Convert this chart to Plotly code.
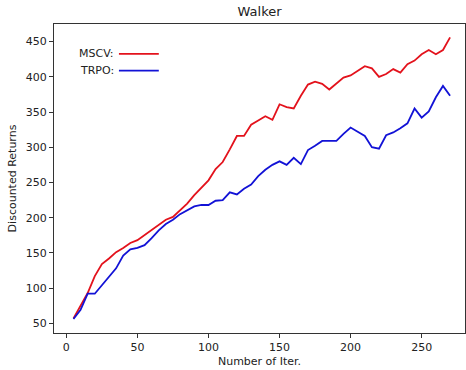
import plotly.graph_objects as go

iters = list(range(5, 275, 5))
mscv = [57, 75, 93, 117, 134, 142, 151, 157, 164, 168, 175, 182, 190, 197, 201, 210,
        220, 232, 242, 253, 269, 279, 297, 316, 316, 332, 338, 344, 339, 361, 357, 355,
        373, 389, 393, 390, 382, 391, 399, 402, 409, 415, 412, 400, 404, 411, 406, 418,
        423, 432, 438, 432, 438, 456]
trpo = [56, 69, 92, 92, 104, 116, 128, 146, 155, 157, 161, 171, 182, 191, 197, 205,
        211, 216, 218, 218, 224, 225, 236, 233, 241, 247, 259, 268, 275, 280, 275, 285,
        276, 296, 302, 309, 309, 309, 319, 328, 322, 316, 300, 298, 317, 321, 327, 334,
        355, 342, 351, 371, 387, 373]
x_ticks = [0, 50, 100, 150, 200, 250]
y_ticks = [50, 100, 150, 200, 250, 300, 350, 400, 450]
series_names = ["MSCV:", "TRPO:"]
colors = ["#e3121c", "#1212d6"]

fig = go.Figure()
for name, ys, c in zip(series_names, [mscv, trpo], colors):
    fig.add_trace(go.Scatter(x=iters, y=ys, mode="lines", name=name,
                             line=dict(color=c, width=1.8), showlegend=False))

font = "DejaVu Sans, sans-serif"
axis_common = dict(showline=True, mirror=True, linecolor="#333333", linewidth=1.2,
                   ticks="outside", ticklen=4, tickcolor="#333333", showgrid=False,
                   zeroline=False, tickfont=dict(family=font, size=11, color="#222222"))

fig.update_layout(
    width=466, height=370,
    margin=dict(l=54, r=1, t=24, b=37),
    paper_bgcolor="white", plot_bgcolor="white",
    title=dict(text="Walker", x=0.557, xanchor="center", y=0.970, yanchor="middle",
               font=dict(family=font, size=13, color="#222222")),
    xaxis=dict(range=[-8.7, 280.5], tickvals=x_ticks,
               title=dict(text="Number of Iter.", font=dict(family=font, size=11, color="#222222"), standoff=4),
               **axis_common),
    yaxis=dict(range=[36.2, 475], tickvals=y_ticks,
               title=dict(text="Discounted Returns", font=dict(family=font, size=11, color="#222222"), standoff=6),
               **axis_common),
)

# Legend (text first, then line sample), matplotlib style
legend_rows = [(0.903, series_names[0], colors[0]), (0.849, series_names[1], colors[1])]
for yp, name, c in legend_rows:
    fig.add_annotation(xref="paper", yref="paper", x=0.152, y=yp, xanchor="right", yanchor="middle",
                       text=name, showarrow=False, font=dict(family=font, size=11, color="#222222"))
    fig.add_shape(type="line", xref="paper", yref="paper", x0=0.158, x1=0.255, y0=yp, y1=yp,
                  line=dict(color=c, width=1.8))

fig.write_html("out.html")
